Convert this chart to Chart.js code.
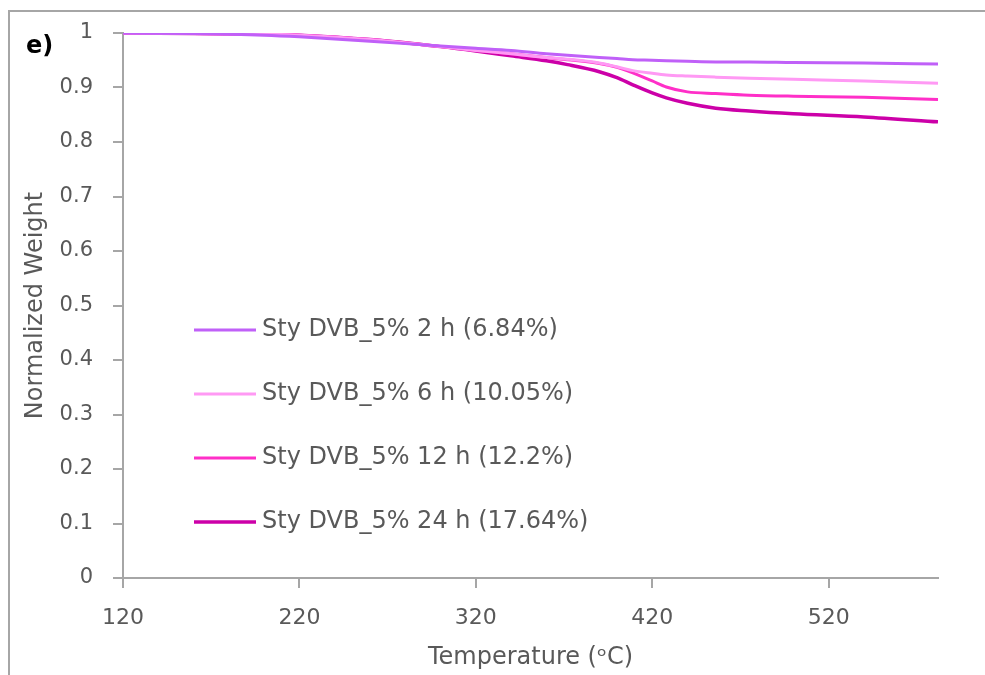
<!DOCTYPE html>
<html>
<head>
<meta charset="utf-8">
<script src="https://cdn.jsdelivr.net/npm/chart.js@4"></script>
<style>
  html, body { margin: 0; padding: 0; background: #fff; }
  #wrap { width: 985px; height: 675px; position: relative; }
</style>
</head>
<body>
<div id="wrap"><canvas id="tga"></canvas></div>
<script>
// temperature (C) and normalized weight
const temps = [120, 160, 200, 220, 260, 300, 320, 340, 360, 372, 390, 400, 409, 420, 428, 440, 456, 475, 500, 540, 582];
const w2h  = [1.000, 0.999, 0.996, 0.993, 0.985, 0.976, 0.972, 0.968, 0.962, 0.959, 0.955, 0.953, 0.951, 0.950, 0.949, 0.948, 0.947, 0.947, 0.946, 0.945, 0.943];
const w6h  = [1.000, 0.999, 0.998, 0.996, 0.988, 0.975, 0.968, 0.962, 0.955, 0.952, 0.945, 0.938, 0.931, 0.926, 0.923, 0.921, 0.919, 0.917, 0.915, 0.912, 0.908];
const w12h = [1.000, 0.999, 0.998, 0.996, 0.988, 0.975, 0.968, 0.962, 0.955, 0.951, 0.944, 0.937, 0.927, 0.912, 0.901, 0.892, 0.889, 0.886, 0.884, 0.882, 0.878];
const w24h = [1.000, 0.999, 0.998, 0.996, 0.988, 0.975, 0.967, 0.958, 0.949, 0.942, 0.929, 0.918, 0.905, 0.890, 0.881, 0.871, 0.862, 0.857, 0.852, 0.846, 0.837];
const seriesNames = ["Sty DVB_5% 2 h (6.84%)", "Sty DVB_5% 6 h (10.05%)", "Sty DVB_5% 12 h (12.2%)", "Sty DVB_5% 24 h (17.64%)"];
const seriesColors = ["#c060f8", "#ff99f4", "#ff2fc8", "#cc00a8"];
const xTicks = [120, 220, 320, 420, 520];

const grey = "#595959";
const axisGrey = "#a6a6a6";
const fontFam = "'DejaVu Sans', sans-serif";

Chart.defaults.font.family = fontFam;
Chart.defaults.font.size = 20;
Chart.defaults.color = grey;

const pts = arr => arr.map((v, i) => ({ x: temps[i], y: v }));
const allSeries = [w2h, w6h, w12h, w24h];

// legend inside the plot + frame + panel letter
const extras = {
  id: "extras",
  afterDraw(chart) {
    const c = chart.ctx;
    c.save();
    // frame
    c.strokeStyle = axisGrey;
    c.lineWidth = 2;
    c.beginPath();
    c.moveTo(9, 675);
    c.lineTo(9, 11);
    c.lineTo(985, 11);
    c.stroke();
    // panel label
    c.fillStyle = "#000";
    c.font = "bold 24px " + fontFam;
    c.textBaseline = "middle";
    c.fillText("e)", 26, 47);
    // legend
    c.font = "24px " + fontFam;
    chart.data.datasets.forEach((ds, i) => {
      const y = 330 + i * 64;
      c.strokeStyle = ds.borderColor;
      c.lineWidth = ds.borderWidth;
      c.beginPath();
      c.moveTo(194, y);
      c.lineTo(256, y);
      c.stroke();
      c.fillStyle = grey;
      c.fillText(ds.label, 262, y);
    });
    c.restore();
  }
};

new Chart(document.getElementById("tga"), {
  type: "line",
  data: {
    datasets: allSeries.map((s, i) => ({
      label: seriesNames[i],
      data: pts(s),
      borderColor: seriesColors[i],
      borderWidth: i === 3 ? 3.5 : 3,
      pointRadius: 0,
      cubicInterpolationMode: "monotone",
      fill: false
    }))
  },
  options: {
    responsive: true,
    maintainAspectRatio: false,
    animation: false,
    layout: { padding: { left: 0, right: 47, top: 33, bottom: 0 } },
    plugins: { legend: { display: false }, tooltip: { enabled: false } },
    scales: {
      x: {
        type: "linear",
        min: 120,
        max: 582,
        afterBuildTicks: s => { s.ticks = xTicks.map(v => ({ value: v })); },
        afterFit: s => { s.height = 97; },
        grid: { display: true, drawOnChartArea: false, tickLength: 10, color: axisGrey, lineWidth: 2 },
        border: { color: axisGrey, width: 2 },
        ticks: {
          color: grey,
          font: { family: fontFam, size: 22 },
          padding: 17,
          maxRotation: 0,
          autoSkip: false,
          callback: v => String(v)
        },
        title: { display: true, text: "Temperature (ᵒC)", color: grey, font: { family: fontFam, size: 24 }, padding: { bottom: 3, top: 0 } }
      },
      y: {
        min: 0,
        max: 1,
        afterFit: s => { s.width = 123; },
        grid: { display: true, drawOnChartArea: false, tickLength: 10, color: axisGrey, lineWidth: 2 },
        border: { color: axisGrey, width: 2 },
        ticks: {
          stepSize: 0.1,
          color: grey,
          font: { family: fontFam, size: 21 },
          padding: 20,
          callback: v => String(Math.round(v * 10) / 10)
        },
        title: { display: true, text: "Normalized Weight", color: grey, font: { family: fontFam, size: 24 }, padding: { top: 21, bottom: 0 } }
      }
    }
  },
  plugins: [extras]
});
</script>
</body>
</html>
